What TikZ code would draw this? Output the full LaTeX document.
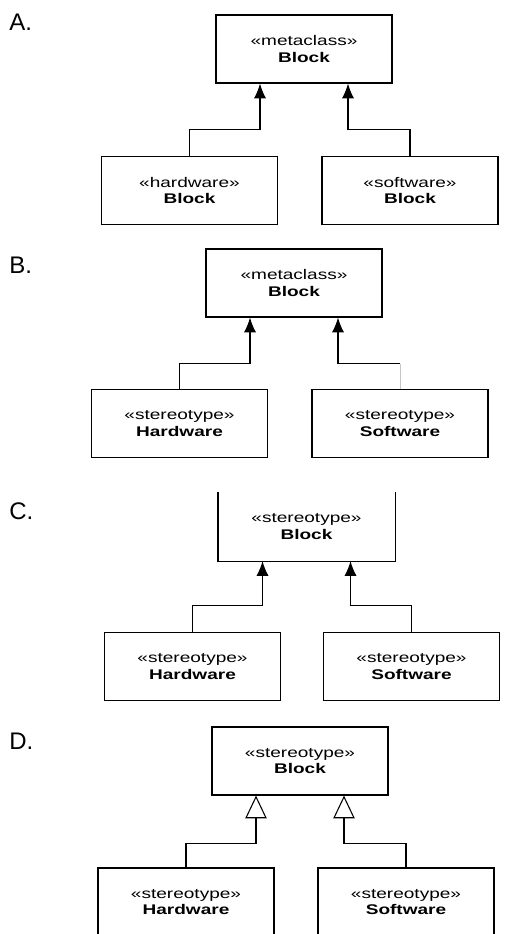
\documentclass[tikz,border=0pt]{standalone}
\usepackage{fontspec}
\setmainfont{Liberation Sans}
\newfontfamily\umlfont{Liberation Sans}[FakeStretch=1.36]
\usetikzlibrary{arrows.meta}

\tikzset{
  umlbox/.style={draw, line width=0.9pt, minimum width=132pt, minimum height=51pt,
    inner sep=0pt, align=center, font=\umlfont\fontsize{10.5}{12.5}\selectfont},
  cutbox/.style={umlbox, draw=none},
  gen/.style={-{Latex[length=11pt,width=9pt]}, line width=0.8pt},
  genopen/.style={-{Triangle[open,length=17pt,width=16pt,fill=white]}, line width=0.8pt},
  letter/.style={anchor=west, inner sep=0pt, font=\fontsize{18}{18}\selectfont}
}

\begin{document}
\begin{tikzpicture}[x=0.75pt,y=-0.75pt]
  \clip (0,0) rectangle (530,934);

  % A.
  \node[letter] (la) at (9,22) {A.};
  \node[umlbox] (aTop) at (304,49)    {«metaclass»\\\textbf{Block}};
  \node[umlbox] (aHw)  at (189.5,190.5) {«hardware»\\\textbf{Block}};
  \node[umlbox] (aSw)  at (410,190.5)  {«software»\\\textbf{Block}};
  \draw[gen] (aHw.north) -- ++(0,-26) -| ([xshift=-33pt]aTop.south);
  \draw[gen] (aSw.north) -- ++(0,-26) -| ([xshift=33pt]aTop.south);

  % B.
  \node[letter] (lb) at (9,265) {B.};
  \node[umlbox] (bTop) at (294,283)     {«metaclass»\\\textbf{Block}};
  \node[umlbox] (bHw)  at (179.5,423.5) {«stereotype»\\\textbf{Hardware}};
  \node[umlbox] (bSw)  at (400,423.5)   {«stereotype»\\\textbf{Software}};
  \draw[gen] (bHw.north) -- ++(0,-25) -| ([xshift=-33pt]bTop.south);
  \draw[gray!45, line width=0.6pt] (bSw.north) -- ++(0,-25) coordinate (bBend);
  \draw[gen] (bBend) -| ([xshift=33pt]bTop.south);

  % C.
  \node[letter] (lc) at (9,511) {C.};
  \node[cutbox] (cTop) at (306.5,526.5) {«stereotype»\\\textbf{Block}};
  \draw[line width=0.9pt] (cTop.north west) -- (cTop.south west)
    -- (cTop.south east) -- (cTop.north east);
  \node[umlbox] (cHw)  at (192.5,666.5) {«stereotype»\\\textbf{Hardware}};
  \node[umlbox] (cSw)  at (411.5,666.5) {«stereotype»\\\textbf{Software}};
  \draw[gen] (cHw.north) -- ++(0,-26) -| ([xshift=-33pt]cTop.south);
  \draw[gen] (cSw.north) -- ++(0,-26) -| ([xshift=33pt]cTop.south);

  % D.
  \node[letter] (ld) at (9,741) {D.};
  \node[umlbox] (dTop) at (300,761)   {«stereotype»\\\textbf{Block}};
  \node[umlbox] (dHw)  at (186,902)   {«stereotype»\\\textbf{Hardware}};
  \node[umlbox] (dSw)  at (406,902)   {«stereotype»\\\textbf{Software}};
  \draw[genopen] (dHw.north) -- ++(0,-24) -| ([xshift=-33pt]dTop.south);
  \draw[genopen] (dSw.north) -- ++(0,-24) -| ([xshift=33pt]dTop.south);
\end{tikzpicture}
\end{document}
